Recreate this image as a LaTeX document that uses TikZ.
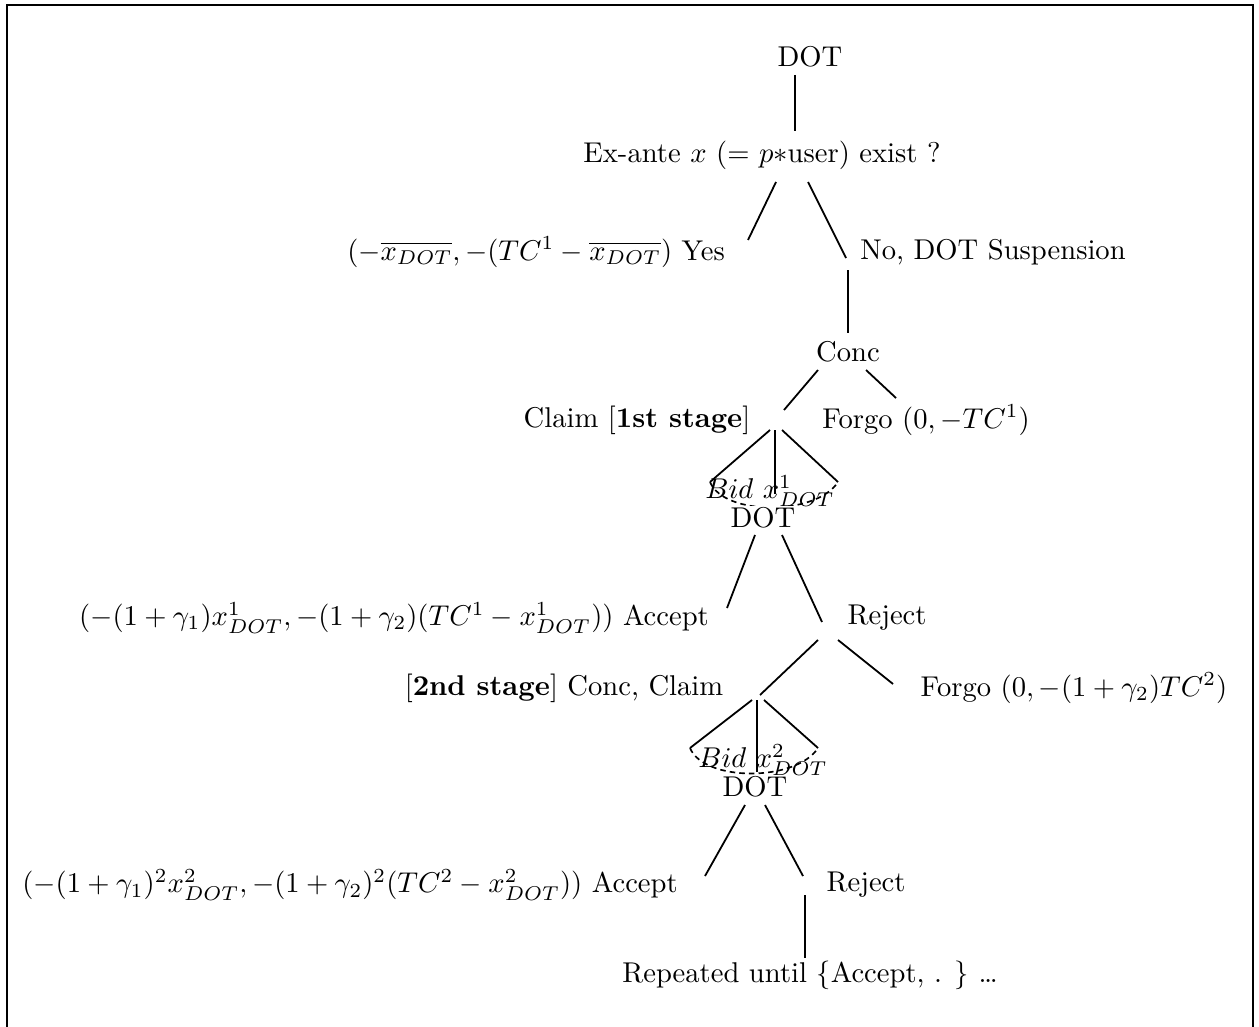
\documentclass[tikz,border=0pt]{standalone}
\usepackage{amsmath}
\begin{document}
\begin{tikzpicture}[x=0.3636pt,y=-0.3636pt,
  lbl/.style={inner sep=1pt,scale=1.04},
  br/.style={line width=0.65pt},
  infoset/.style={line width=0.6pt,dashed,dash pattern=on 2pt off 1.5pt}]
% page frame
\useasboundingbox (0,0) rectangle (1259,1026);
\draw[line width=0.8pt] (7,1040) -- (7,5) -- (1253,5) -- (1253,1040);

% ---- labels ----
\node[lbl] (dot0) at (810,57) {DOT};
\node[lbl] (exante) at (762,155) {Ex-ante $x$ (= $p{*}$user) exist ?};
\node[lbl] (yes) at (536,252) {$(-\overline{x_{DOT}}, -(TC^1 - \overline{x_{DOT}})$ Yes};
\node[lbl] (nosusp) at (993,252) {No, DOT Suspension};
\node[lbl] (conc) at (848,352) {Conc};
\node[lbl] (claim1) at (637,420) {Claim [\textbf{1st stage}]};
\node[lbl] (forgo1) at (926,420) {Forgo $(0, -TC^1)$};
\node[lbl] (accept1) at (394,618) {$(-(1+\gamma_1)x^1_{DOT}, -(1+\gamma_2)(TC^1 - x^1_{DOT}))$ Accept};
\node[lbl] (reject1) at (887,618) {Reject};
\node[lbl] (claim2) at (564,688) {[\textbf{2nd stage}] Conc, Claim};
\node[lbl] (forgo2) at (1074,688) {Forgo $(0, -(1+\gamma_2)TC^2)$};
\node[lbl] (accept2) at (350,885) {$(-(1+\gamma_1)^2x^2_{DOT}, -(1+\gamma_2)^2(TC^2 - x^2_{DOT}))$ Accept};
\node[lbl] (reject2) at (866,885) {Reject};
\node[lbl] (repeat) at (810,975) {Repeated until $\{$Accept, . $\}$ \dots};

% ---- branch end points ----
\coordinate (a0) at (795,75);   \coordinate (a1) at (795,131);
\coordinate (b0) at (776,182);  \coordinate (b1) at (748,240);
\coordinate (b2) at (808,182);  \coordinate (b3) at (846,258);
\coordinate (c0) at (848,270);  \coordinate (c1) at (848,333);
\coordinate (d0) at (818,370);  \coordinate (d1) at (784,410);
\coordinate (d2) at (866,370);  \coordinate (d3) at (896,398);
% first bid (three moves joined by an information set)
\coordinate (e0) at (770,430);  \coordinate (eL) at (710,482);
\coordinate (e1) at (775,430);  \coordinate (eM) at (775,494);
\coordinate (e2) at (782,430);  \coordinate (eR) at (838,482);
\coordinate (f0) at (755,535);  \coordinate (f1) at (727,608);
\coordinate (f2) at (782,535);  \coordinate (f3) at (822,622);
\coordinate (g0) at (818,640);  \coordinate (g1) at (760,695);
\coordinate (g2) at (838,640);  \coordinate (g3) at (893,684);
% second bid
\coordinate (h0) at (752,700);  \coordinate (hL) at (690,748);
\coordinate (h1) at (757,700);  \coordinate (hM) at (757,772);
\coordinate (h2) at (764,700);  \coordinate (hR) at (818,748);
\coordinate (k0) at (745,805);  \coordinate (k1) at (705,876);
\coordinate (k2) at (765,805);  \coordinate (k3) at (803,876);
\coordinate (m0) at (805,895);  \coordinate (m1) at (805,958);

% ---- information sets, mostly hidden behind the DOT labels ----
\draw[infoset] (eL) .. controls (724,516) and (816,516) .. (eR);
\draw[infoset] (hL) .. controls (704,782) and (796,782) .. (hR);

% ---- branches ----
\draw[br] (a0) -- (a1);
\draw[br] (b0) -- (b1);
\draw[br] (b2) -- (b3);
\draw[br] (c0) -- (c1);
\draw[br] (d0) -- (d1);
\draw[br] (d2) -- (d3);
\draw[br] (e0) -- (eL);
\draw[br] (e2) -- (eR);
\draw[br] (f0) -- (f1);
\draw[br] (f2) -- (f3);
\draw[br] (g0) -- (g1);
\draw[br] (g2) -- (g3);
\draw[br] (h0) -- (hL);
\draw[br] (h2) -- (hR);
\draw[br] (k0) -- (k1);
\draw[br] (k2) -- (k3);
\draw[br] (m0) -- (m1);

% ---- bid labels and DOT nodes ----
\node[lbl,fill=white,inner sep=0.5pt] (dot1) at (763,518) {DOT};
\node[lbl,inner sep=0pt] (bid1) at (770,491) {$Bid\ x^1_{DOT}$};
\node[lbl,fill=white,inner sep=0.5pt] (dot2) at (755,787) {DOT};
\node[lbl,inner sep=0pt] (bid2) at (763,760) {$Bid\ x^2_{DOT}$};
% middle moves run over the bid labels
\draw[br] (e1) -- (eM);
\draw[br] (h1) -- (hM);
\end{tikzpicture}
\end{document}
